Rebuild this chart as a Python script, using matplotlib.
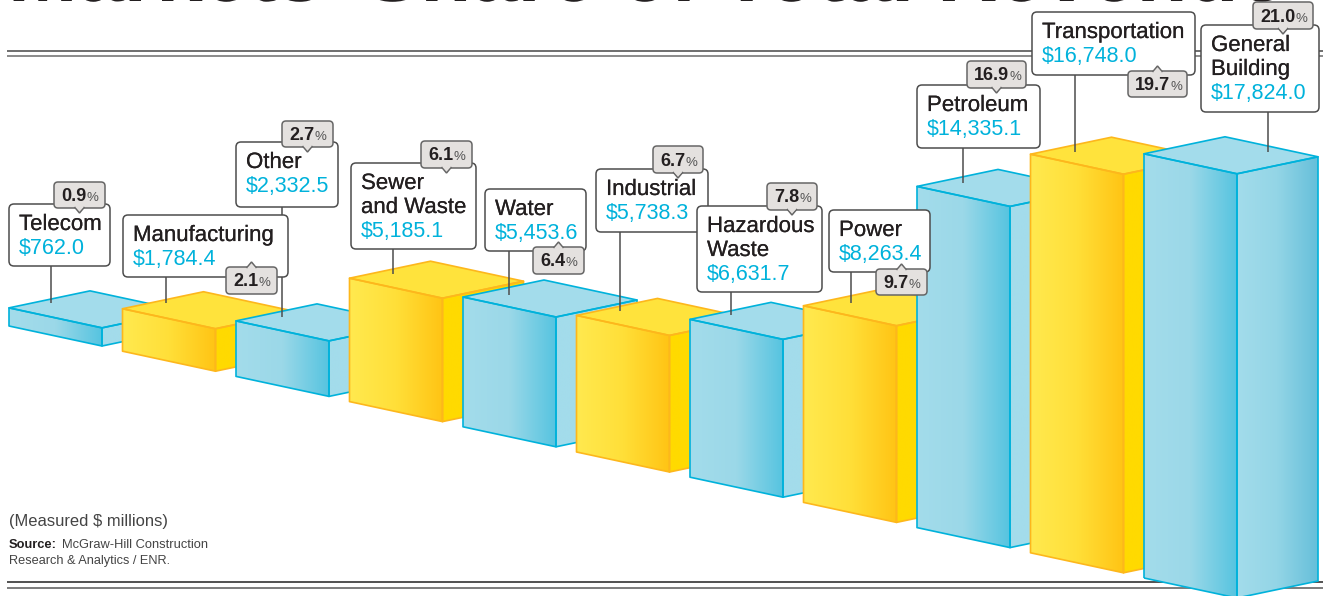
#!/bin/env python

import numpy as np
import matplotlib
matplotlib.use("Agg")
import matplotlib.pyplot as plt
import matplotlib.patheffects as pe
from matplotlib.colors import LinearSegmentedColormap
from matplotlib.patches import FancyBboxPatch, Polygon

names = ["Telecom", "Manufacturing", "Other", "Sewer\nand Waste", "Water", "Industrial",
         "Hazardous\nWaste", "Power", "Petroleum", "Transportation", "General\nBuilding"]
values = [762.0, 1784.4, 2332.5, 5185.1, 5453.6, 5738.3, 6631.7, 8263.4, 14335.1, 16748.0, 17824.0]
shares = [0.9, 2.1, 2.7, 6.1, 6.4, 6.7, 7.8, 9.7, 16.9, 19.7, 21.0]
bar_kind = ["blue", "yellow", "blue", "yellow", "blue", "yellow", "blue", "yellow", "blue", "yellow", "blue"]

# callout layout, pixels: x0, y0, x1, y1
label_boxes = [(9, 204, 110, 266), (123, 215, 288, 277), (236, 142, 338, 207), (351, 163, 476, 249),
               (485, 189, 586, 251), (596, 169, 708, 232), (697, 206, 822, 292), (829, 210, 930, 272),
               (917, 85, 1040, 148), (1032, 12, 1195, 75), (1201, 25, 1319, 112)]
pill_boxes = [(54, 182, 105, 208), (226, 267, 277, 294), (282, 121, 333, 147), (421, 141, 472, 168),
              (533, 247, 584, 274), (653, 146, 703, 173), (767, 183, 817, 210), (876, 269, 927, 295),
              (967, 61, 1026, 88), (1128, 71, 1187, 97), (1253, 2, 1313, 29)]
leader_x = [51, 166, 282, 393, 509, 620, 731, 851, 963, 1075, 1268]
leader_end = [303, 303, 317, 274, 295, 311, 315, 303, 183, 152, 152]

title = "Markets\u2019 Share of Total Revenue"

styles = {
    "blue": dict(edge="#00B2DB", top="#A3DCEB", front=["#A3DCEB", "#9BD8E8", "#56C4E0"],
                 side=["#A3DCEB", "#A3DCEB"]),
    "yellow": dict(edge="#FDB71C", top="#FFE33C", front=["#FFE94F", "#FFDF38", "#FFC414"],
                   side=["#FFDA00", "#FFDA00"]),
}
TEXT = "#231F20"
CYAN = "#00B2DB"
FONT = "Liberation Sans"
PX_PER_UNIT = 0.0238

fig = plt.figure(figsize=(13.23, 5.96), dpi=100)
ax = fig.add_axes([0, 0, 1, 1])
ax.set_xlim(0, 1323)
ax.set_ylim(596, 0)
ax.axis("off")


def gradient(poly, colors, x0, x1, y0, y1, z):
    cmap = LinearSegmentedColormap.from_list("g", colors)
    im = ax.imshow(np.linspace(0, 1, 128).reshape(1, -1), cmap=cmap, extent=(x0, x1, y1, y0),
                   aspect="auto", zorder=z, interpolation="bilinear")
    im.set_clip_path(poly)


def bar3d(i, value, kind):
    s = styles[kind]
    z = 2 + i * 0.01
    x = 9 + 113.5 * i
    base = 326 + 25.2 * i
    h = value * PX_PER_UNIT
    w, dw = 93, 20
    dx, dy = 81, -17
    front = [(x, base), (x + w, base + dw), (x + w, base + dw - h), (x, base - h)]
    side = [(x + w, base + dw), (x + w + dx, base + dw + dy), (x + w + dx, base + dw + dy - h), (x + w, base + dw - h)]
    top = [(x, base - h), (x + w, base + dw - h), (x + w + dx, base + dw + dy - h), (x + dx, base + dy - h)]

    # side and front get a gradient clipped to the face, then the outline on top
    side_colors = s["side"]
    if i == len(values) - 1:
        side_colors = ["#A3DCEB", "#93D5E6", "#66BFDA"]
    for pts, colors in ((side, side_colors), (front, s["front"])):
        p = Polygon(pts, closed=True, facecolor="none", edgecolor="none", zorder=z)
        ax.add_patch(p)
        xs = [q[0] for q in pts]
        ys = [q[1] for q in pts]
        gradient(p, colors, min(xs), max(xs), min(ys), max(ys), z)
    ax.add_patch(Polygon(top, closed=True, facecolor=s["top"], edgecolor="none", zorder=z))
    for pts in (side, front, top):
        ax.add_patch(Polygon(pts, closed=True, facecolor="none", edgecolor=s["edge"], lw=1.2,
                             joinstyle="round", zorder=z + 0.001))


def rounded(x0, y0, x1, y1, fc, ec, lw, rad, z):
    ax.add_patch(FancyBboxPatch((x0, y0), x1 - x0, y1 - y0, boxstyle="round,pad=0,rounding_size=%g" % rad,
                                facecolor=fc, edgecolor=ec, lw=lw, zorder=z))


# rules, and the title cut off by the top of the page
for y, c in ((51, "#555555"), (56, "#777777"), (582, "#333333"), (588, "#666666")):
    ax.plot([7, 1323], [y, y], color=c, lw=1.2, zorder=1, solid_capstyle="butt")
ax.text(8, 1, title, fontsize=60, fontweight="bold", family=FONT, color="#231F20", va="baseline", zorder=1,
        path_effects=[pe.Normal()])

for i, v in enumerate(values):
    bar3d(i, v, bar_kind[i])

for i, (x, end) in enumerate(zip(leader_x, leader_end)):
    ax.plot([x, x], [label_boxes[i][3], end], color="#4D4D4D", lw=1.1, zorder=3, solid_capstyle="butt")

medium = [pe.withStroke(linewidth=0.12, foreground=TEXT)]
for i, (name, v) in enumerate(zip(names, values)):
    x0, y0, x1, y1 = label_boxes[i]
    z = 4 + i * 0.01
    rounded(x0, y0, x1, y1, "white", "#4D4D4D", 1.1, 5, z)
    lines = name.split("\n")
    for j, line in enumerate(lines):
        ax.text(x0 + 10, y0 + 26 + 24 * j, line, fontsize=16, family=FONT, color=TEXT, va="baseline",
                zorder=z + 0.001, path_effects=medium)
    ax.text(x0 + 10, y0 + 26 + 24 * len(lines), "${:,.1f}".format(v), fontsize=15.5, family=FONT, color=CYAN,
            va="baseline", zorder=z + 0.001)

fig.canvas.draw()
rend = fig.canvas.get_renderer()

for i, share in enumerate(shares):
    x0, y0, x1, y1 = pill_boxes[i]
    z = 5 + i * 0.01
    rounded(x0, y0, x1, y1, "#E4E1DF", "#666666", 1.1, 4, z)
    xm = (x0 + x1) / 2
    # pills that sit below their box point up, the rest point down
    below = y0 > label_boxes[i][1] + 20
    tip, root = (y0 - 5, y0 + 1) if below else (y1 + 5, y1 - 1)
    ax.add_patch(Polygon([(xm - 5, root), (xm, tip), (xm + 5, root)], closed=False, facecolor="#E4E1DF",
                         edgecolor="#666666", lw=1.1, zorder=z + 0.001))
    ax.add_patch(Polygon([(xm - 4, root), (xm, tip + (2 if below else -2)), (xm + 4, root)], closed=True,
                         facecolor="#E4E1DF", edgecolor="none", zorder=z + 0.002))
    t = ax.text(x0 + 7, (y0 + y1) / 2 + 6, "%.1f" % share, fontsize=13, fontweight="bold", family=FONT,
                color=TEXT, va="baseline", zorder=z + 0.003)
    ext = t.get_window_extent(rend)
    ax.text(ext.x1 + 0.5, (y0 + y1) / 2 + 6, "%", fontsize=9.5, family=FONT, color="#555555", va="baseline",
            zorder=z + 0.003)

ax.text(9, 526, "(Measured $ millions)", fontsize=11.9, family=FONT, color="#444444", va="baseline", zorder=6)
t = ax.text(9, 548, "Source:", fontsize=9.25, fontweight="bold", family=FONT, color=TEXT, va="baseline", zorder=6)
ext = t.get_window_extent(rend)
ax.text(ext.x1 + 5, 548, "McGraw-Hill Construction", fontsize=9.25, family=FONT, color="#444444", va="baseline", zorder=6)
ax.text(9, 564, "Research & Analytics / ENR.", fontsize=9.2, family=FONT, color="#444444", va="baseline", zorder=6)

fig.savefig("out.png", dpi=100)
